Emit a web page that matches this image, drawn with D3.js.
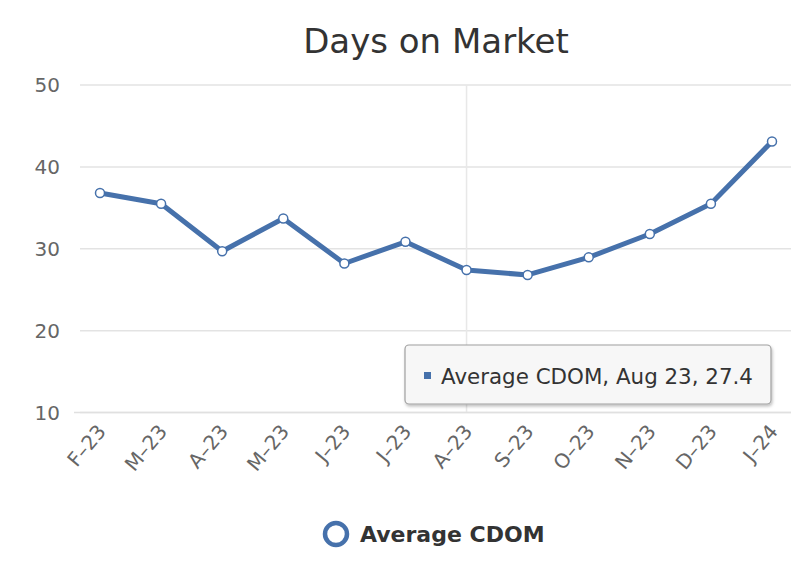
<!DOCTYPE html>
<html><head><meta charset="utf-8">
<script src="https://cdn.jsdelivr.net/npm/d3@7"></script>
<style>body{margin:0;background:#fff}svg{display:block}</style>
</head><body>
<svg id="c" width="798" height="582"></svg>
<script>
const categories = ["F–23","M–23","A–23","M–23","J–23","J–23","A–23","S–23","O–23","N–23","D–23","J–24"];
const values = [36.8, 35.5, 29.7, 33.7, 28.2, 30.85, 27.4, 26.8, 28.95, 31.8, 35.5, 43.1];
const yTicks = [10, 20, 30, 40, 50];
const seriesName = "Average CDOM";
const tooltipText = "Average CDOM, Aug 23, 27.4";
const highlightIndex = 6;

const svg = d3.select("#c");
const font = "'DejaVu Sans', Verdana, sans-serif";
const blue = "#4671AB";
const x = d3.scalePoint().domain(d3.range(categories.length)).range([100, 772]);
const y = d3.scaleLinear().domain([10, 50]).range([412.5, 85]);

svg.append("text").attr("x", 436).attr("y", 53).attr("text-anchor", "middle")
  .attr("font-family", font).attr("font-size", 34).attr("fill", "#333").text("Days on Market");

// gridlines
svg.append("g").selectAll("line").data(yTicks).join("line")
  .attr("x1", 80).attr("x2", 791).attr("y1", d => y(d)).attr("y2", d => y(d))
  .attr("stroke", "#e3e3e3").attr("stroke-width", 1.5);

// y labels
svg.append("g").selectAll("text").data(yTicks).join("text")
  .attr("x", 60).attr("y", d => y(d) + 7).attr("text-anchor", "end")
  .attr("font-family", font).attr("font-size", 20).attr("fill", "#666").text(d => d);

// crosshair
svg.append("line").attr("x1", x(highlightIndex)).attr("x2", x(highlightIndex))
  .attr("y1", 85).attr("y2", 412.5).attr("stroke", "#e8e8e8").attr("stroke-width", 1.5);

// x axis line
svg.append("line").attr("x1", 74).attr("x2", 791).attr("y1", 412.5).attr("y2", 412.5)
  .attr("stroke", "#e0e0e0").attr("stroke-width", 1.5);

// x labels
svg.append("g").selectAll("text").data(categories).join("text")
  .attr("transform", (d, i) => `translate(${x(i) + 7},${432}) rotate(-50)`)
  .attr("text-anchor", "end").attr("font-family", font).attr("font-size", 20)
  .attr("fill", "#666").text(d => d);

// line
const line = d3.line().x((d, i) => x(i)).y(d => y(d));
svg.append("path").datum(values).attr("d", line).attr("fill", "none")
  .attr("stroke", blue).attr("stroke-width", 5).attr("stroke-linejoin", "round");
svg.append("g").selectAll("circle").data(values).join("circle")
  .attr("cx", (d, i) => x(i)).attr("cy", d => y(d)).attr("r", 4.5)
  .attr("fill", "#fff").attr("stroke", blue).attr("stroke-width", 1.5);

// tooltip
const defs = svg.append("defs");
const f = defs.append("filter").attr("id", "sh").attr("x", "-10%").attr("y", "-20%").attr("width", "120%").attr("height", "150%");
f.append("feDropShadow").attr("dx", 1).attr("dy", 2).attr("stdDeviation", 1.5).attr("flood-color", "#000").attr("flood-opacity", 0.25);
svg.append("rect").attr("x", 405).attr("y", 345).attr("width", 366).attr("height", 59).attr("rx", 4)
  .attr("fill", "#f7f7f7").attr("stroke", "#a0a0a0").attr("stroke-width", 1.2).attr("filter", "url(#sh)");
svg.append("rect").attr("x", 424).attr("y", 372).attr("width", 7).attr("height", 7).attr("fill", blue);
svg.append("text").attr("x", 441).attr("y", 384).attr("font-family", font).attr("font-size", 21.4)
  .attr("fill", "#333").text(tooltipText);

// legend
svg.append("circle").attr("cx", 336).attr("cy", 534).attr("r", 11).attr("fill", "#fff")
  .attr("stroke", blue).attr("stroke-width", 4.5);
svg.append("text").attr("x", 360).attr("y", 542).attr("font-family", font).attr("font-size", 22)
  .attr("font-weight", "bold").attr("fill", "#333").text(seriesName);
</script>
</body></html>
